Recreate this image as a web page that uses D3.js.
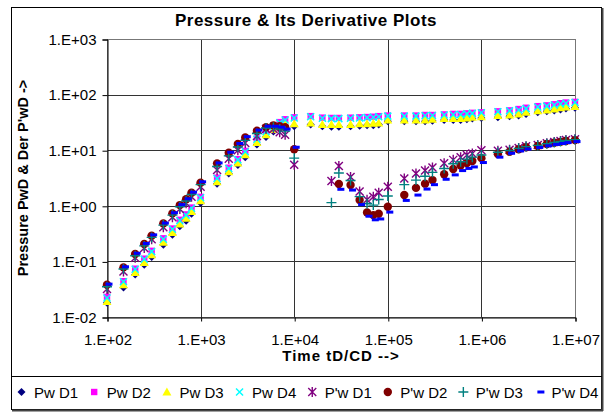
<!DOCTYPE html>
<html>
<head>
<meta charset="utf-8">
<script src="https://cdn.jsdelivr.net/npm/d3@7"></script>
<style>
  body { margin: 0; background: #fff; }
  svg { display: block; font-family: "Liberation Sans", Arial, sans-serif; }
</style>
</head>
<body>
<div id="chart"></div>
<script>
// time axis points (tD/CD)
const times = [
  100, 150, 200, 250, 300, 400, 500, 600, 700, 800,
  1e3, 1.5e3, 2e3, 2.5e3, 3e3, 4e3, 5e3, 6e3, 7e3, 8e3,
  1e4, 1.5e4, 2e4, 2.5e4, 3e4, 4e4, 5e4, 6e4, 7e4, 8e4,
  1e5, 1.5e5, 2e5, 2.5e5, 3e5, 4e5, 5e5, 6e5, 7e5, 8e5,
  1e6, 1.5e6, 2e6, 2.5e6, 3e6, 4e6, 5e6, 6e6, 7e6, 8e6,
  1e7
];

// pressure PwD
const pwD1 = [
  0.018, 0.034, 0.058, 0.087, 0.12, 0.2, 0.3, 0.43, 0.54, 0.72,
  1.12, 2.5, 3.8, 5.4, 7.5, 12.6, 17.2, 21.6, 25, 27,
  27, 29, 27, 26.5, 26.5, 27, 27.5, 28, 28, 29,
  33, 33, 33, 33, 34, 35, 35, 35, 36, 37,
  38, 39, 41, 42, 45, 48, 50, 52, 54, 56,
  58
];
const pwD2 = [
  0.023, 0.044, 0.074, 0.112, 0.155, 0.26, 0.39, 0.56, 0.7, 0.93,
  1.45, 3.2, 4.85, 6.9, 9.7, 16.2, 22, 28, 32, 36,
  39, 41, 38.5, 38, 38, 38.5, 39, 39.5, 40, 41,
  42, 42, 42, 43, 43, 44, 45, 45, 46, 47,
  48, 50, 52, 55, 58, 62, 64, 67, 70, 72,
  74
];
const pwD3 = [
  0.019, 0.038, 0.063, 0.096, 0.132, 0.22, 0.33, 0.47, 0.6, 0.79,
  1.23, 2.7, 4.1, 5.9, 8.3, 13.8, 18.9, 23.5, 27, 29,
  30, 31, 29, 29, 29, 29, 30, 30, 30.5, 31,
  35, 35, 35, 35, 36, 37, 37, 37, 38, 39,
  40, 42, 43, 45, 48, 51, 53, 55, 58, 60,
  61
];
const pwD4 = [
  0.022, 0.043, 0.072, 0.109, 0.15, 0.25, 0.38, 0.54, 0.68, 0.9,
  1.4, 3.1, 4.7, 6.7, 9.4, 15.7, 21.5, 27, 31, 35,
  38, 40, 37.5, 37, 37, 37.5, 38, 38.5, 39, 40,
  41, 41, 41, 41.5, 42, 43, 43.5, 44, 45, 46,
  47, 49, 51, 53, 56, 60, 62, 65, 68, 70,
  72
];

// derivative P'wD (null = no point)
const dpwD1 = [
  0.032, 0.066, 0.116, 0.175, 0.25, 0.41, 0.62, 0.88, 1.11, 1.46,
  2.2, 4.4, 7.0, 10, 13.5, 18, 24, 24, 21, 19,
  5.5, null, null, 2.8, 5.2, 3.3, 1.8, 1.29, 1.46, 1.72,
  2.2, 3.1, 3.8, 4.3, 4.9, 5.8, 6.7, 7.5, 8.2, 8.7,
  10, 9.8, 10.2, 11, 11.8, 12.4, 13.3, 14, 14.6, 15.2,
  15.8
];
const dpwD2 = [
  0.038, 0.078, 0.136, 0.206, 0.29, 0.48, 0.73, 1.03, 1.31, 1.72,
  2.6, 5.8, 9.0, 12.9, 17, 22.4, 26, 28, 27, 26,
  10.4, null, null, null, 2.47, 2.37, 1.27, 0.76, 0.68, 0.72,
  0.96, 1.56, 2.1, 2.5, 2.9, 3.7, 4.6, 5.3, 5.9, 6.4,
  7.2, 8.5, 9.4, 10.4, 11.3, 11.9, 12.9, 13.6, 14.1, 14.6,
  15.2
];
const dpwD3 = [
  0.035, 0.073, 0.126, 0.19, 0.27, 0.45, 0.68, 0.96, 1.22, 1.6,
  2.4, 5.1, 7.9, 11.4, 15, 20, 25, 26, 24, 22,
  7.2, null, null, 1.14, 3.9, 2.85, 1.46, 1.1, 1.03, 1.3,
  1.5, 2.4, 2.9, 3.4, 4.0, 4.7, 5.7, 6.2, 6.9, 7.5,
  8.2, 9.2, 9.9, 10.8, 11.6, 12.2, 13.1, 13.8, 14.4, 14.9,
  15.5
];
const dpwD4 = [
  0.039, 0.08, 0.14, 0.21, 0.3, 0.49, 0.75, 1.05, 1.34, 1.76,
  2.7, 5.9, 9.2, 13.2, 17.5, 23, 27, 27, 26, 24,
  11.3, null, null, null, 1.98, 1.92, 1.05, 0.65, 0.56, 0.58,
  0.77, 1.25, 1.56, 2.0, 2.4, 3.0, 3.6, 4.3, 4.7, 5.0,
  6.0, 7.5, 8.8, 9.7, 10.5, 11.2, 12, 12.7, 13.2, 13.7,
  14.3
];

const xTicks = [1e2, 1e3, 1e4, 1e5, 1e6, 1e7];
const yTicks = [1e-2, 1e-1, 1e0, 1e1, 1e2, 1e3];
const seriesNames = ["Pw D1", "Pw D2", "Pw D3", "Pw D4", "P'w D1", "P'w D2", "P'w D3", "P'w D4"];
const seriesValues = [pwD1, pwD2, pwD3, pwD4, dpwD1, dpwD2, dpwD3, dpwD4];

const W = 613, H = 412;
const plot = { left: 107, right: 575, top: 39, bottom: 317 };

const svg = d3.select("#chart").append("svg").attr("width", W).attr("height", H);

// chart area frame
svg.append("rect").attr("x", 11.5).attr("y", 7.5).attr("width", 590).attr("height", 402)
  .attr("fill", "#fff").attr("stroke", "#000");
svg.append("line").attr("x1", 12).attr("x2", 603).attr("y1", 410.5).attr("y2", 410.5)
  .attr("stroke", "#444").attr("stroke-width", 2);
svg.append("line").attr("x1", 602.5).attr("x2", 602.5).attr("y1", 8).attr("y2", 411)
  .attr("stroke", "#444").attr("stroke-width", 2);

const x = d3.scaleLog().domain([1e2, 1e7]).range([plot.left, plot.right]);
const y = d3.scaleLog().domain([1e-2, 1e3]).range([plot.bottom, plot.top]);

const fmt = d => {
  const e = Math.round(Math.log10(d));
  return "1.E" + (e < 0 ? "-" : "+") + String(Math.abs(e)).padStart(2, "0");
};

// gridlines
const grid = svg.append("g");
grid.selectAll(".gx").data(xTicks).enter().append("line")
  .attr("x1", d => Math.round(x(d)) + 0.5).attr("x2", d => Math.round(x(d)) + 0.5)
  .attr("y1", plot.top).attr("y2", plot.bottom)
  .attr("stroke", "#333");
grid.selectAll(".gy").data(yTicks).enter().append("line")
  .attr("y1", d => Math.round(y(d)) + 0.5).attr("y2", d => Math.round(y(d)) + 0.5)
  .attr("x1", plot.left).attr("x2", plot.right)
  .attr("stroke", "#333");
svg.append("rect")
  .attr("x", plot.left + 0.5).attr("y", plot.top + 0.5)
  .attr("width", plot.right - plot.left).attr("height", plot.bottom - plot.top)
  .attr("fill", "none").attr("stroke", "#777");

// axes
const xAxis = svg.append("g")
  .attr("transform", `translate(0.5,${plot.bottom + 0.5})`)
  .call(d3.axisBottom(x).tickValues(xTicks).tickFormat(fmt).tickSizeOuter(0).tickSize(4).tickPadding(13));
const yAxis = svg.append("g")
  .attr("transform", `translate(${plot.left + 0.5},0.5)`)
  .call(d3.axisLeft(y).tickValues(yTicks).tickFormat(fmt).tickSizeOuter(0).tickSize(5).tickPadding(6));
[xAxis, yAxis].forEach(a => {
  a.select(".domain").attr("stroke", "#000");
  a.selectAll(".tick line").attr("stroke", "#000");
  a.selectAll("text").attr("font-size", 15).attr("fill", "#000")
    .attr("font-family", "Liberation Sans, Arial, sans-serif");
});

// titles
svg.append("text").attr("x", 306).attr("y", 26).attr("text-anchor", "middle")
  .attr("font-size", 17).attr("font-weight", "bold").attr("letter-spacing", 0.5)
  .text("Pressure & Its Derivative Plots");
svg.append("text").attr("x", (plot.left + plot.right) / 2).attr("y", 361).attr("text-anchor", "middle")
  .attr("font-size", 15).attr("font-weight", "bold").attr("letter-spacing", 1)
  .text("Time tD/CD -->");
svg.append("text").attr("transform", `translate(28,${(plot.top + plot.bottom) / 2}) rotate(-90)`)
  .attr("text-anchor", "middle").attr("font-size", 14.5).attr("font-weight", "bold")
  .text("Pressure PwD & Der P'wD ->");

// markers
function drawMarker(g, i) {
  switch (i) {
    case 0: g.append("path").attr("d", "M0,-4L4,0L0,4L-4,0Z").attr("fill", "#000080"); break;
    case 1: g.append("rect").attr("x", -3.2).attr("y", -3.2).attr("width", 6.4).attr("height", 6.4).attr("fill", "#ff00ff"); break;
    case 2: g.append("path").attr("d", "M0,-4.5L4.5,3.5L-4.5,3.5Z").attr("fill", "#ffff00"); break;
    case 3: g.append("path").attr("d", "M-3.5,-3.5L3.5,3.5M-3.5,3.5L3.5,-3.5").attr("stroke", "#00ffff").attr("stroke-width", 1.5).attr("fill", "none"); break;
    case 4: g.append("path").attr("d", "M-4,-4L4,4M-4,4L4,-4M0,-5L0,5").attr("stroke", "#800080").attr("stroke-width", 1.4).attr("fill", "none"); break;
    case 5: g.append("circle").attr("r", 4.2).attr("fill", "#800000"); break;
    case 6: g.append("path").attr("d", "M-5,0L5,0M0,-5L0,5").attr("stroke", "#008080").attr("stroke-width", 1.4).attr("fill", "none"); break;
    case 7: g.append("rect").attr("x", -1.5).attr("y", -1.5).attr("width", 7).attr("height", 3).attr("fill", "#0000ff"); break;
  }
}

const marks = svg.append("g");
seriesValues.forEach((vals, i) => {
  const pts = times.map((t, k) => ({ t, v: vals[k] })).filter(d => d.v != null);
  marks.append("g").selectAll("g").data(pts).enter().append("g")
    .attr("transform", d => `translate(${x(d.t)},${y(d.v)})`)
    .each(function () { drawMarker(d3.select(this), i); });
});

// legend
svg.append("line").attr("x1", 12).attr("x2", 602).attr("y1", 376.5).attr("y2", 376.5).attr("stroke", "#000");
const legend = svg.append("g");
let lx = 21.5;
seriesNames.forEach((name, i) => {
  const g = legend.append("g").attr("transform", `translate(${lx},392)`);
  drawMarker(g, i);
  const t = legend.append("text").attr("x", lx + 12.5).attr("y", 397.5)
    .attr("font-size", 15).text(name);
  lx = lx + 12.5 + t.node().getComputedTextLength() + 16;
});
</script>
</body>
</html>
